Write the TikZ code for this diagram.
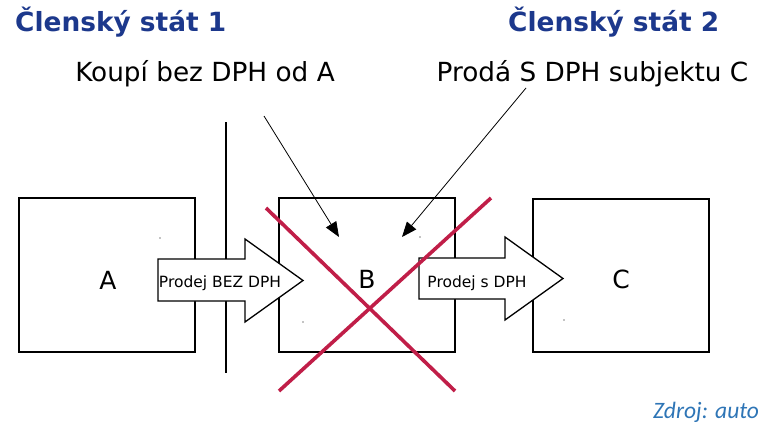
\documentclass[tikz,border=0pt]{standalone}
\usepackage{fontspec}
\setmainfont{DejaVu Sans}
\newfontfamily\srcfont{Carlito}
\usetikzlibrary{arrows.meta}
\definecolor{titleblue}{RGB}{28,56,140}
\definecolor{crossred}{RGB}{192,30,72}
\definecolor{srcblue}{RGB}{46,117,182}
\begin{document}
\begin{tikzpicture}[x=1pt,y=-1pt,
  party/.style={draw,line width=1.3pt,inner sep=0pt,font=\fontsize{25}{30}\selectfont},
  fatarrow/.style={draw,line width=1.3pt,fill=white,line join=miter},
  arrowtext/.style={inner sep=0pt,font=\fontsize{15.5}{18}\selectfont},
  title/.style={font=\bfseries\fontsize{26.4}{30}\selectfont,text=titleblue,inner sep=0pt},
  note/.style={font=\fontsize{26.3}{30}\selectfont,inner sep=0pt},
  pointer/.style={-{Triangle[length=15pt,width=12pt]},line width=0.8pt},
  cross/.style={draw=crossred,line width=3.6pt}]
\useasboundingbox (0,0) rectangle (758,426);
% border line
\coordinate (vtop) at (226,122);
\coordinate (vbot) at (226,373);
\draw[line width=1.3pt] (vtop) -- (vbot);
% boxes
\node[party,minimum width=176pt,minimum height=154pt] (A) at (107,275) {};
\node[party,minimum width=176pt,minimum height=154pt] (B) at (367,275) {};
\node[party,minimum width=176pt,minimum height=153pt] (C) at (621,275.5) {};
\node[font=\fontsize{25}{30}\selectfont,inner sep=0pt] (Alab) at (108,280) {A};
\node[font=\fontsize{25}{30}\selectfont,inner sep=0pt] (Blab) at (367,279) {B};
\node[font=\fontsize{25}{30}\selectfont,inner sep=0pt] (Clab) at (621,279) {C};
% fat arrows
\draw[fatarrow] (158,259) -- (245,259) -- (245,239) -- (303,280.5) -- (245,322) -- (245,301) -- (158,301) -- cycle;
\node[arrowtext] (t1) at (220,283) {Prodej BEZ DPH};
\draw[fatarrow] (419,258) -- (505,258) -- (505,237) -- (563,278.5) -- (505,320) -- (505,299) -- (419,299) -- cycle;
\node[arrowtext] (t2) at (477,283) {Prodej s DPH};
% tiny specks
\fill (160,238) circle (0.6pt);
\fill (303,322) circle (0.6pt);
\fill (420,237) circle (0.6pt);
\fill (564,320) circle (0.6pt);
% titles and notes
\node[title,anchor=base west] (s1) at (15,31) {Členský stát 1};
\node[title,anchor=base west] (s2) at (508,31) {Členský stát 2};
\node[note,anchor=base] (n1) at (205,81) {Koupí bez DPH od A};
\node[note,anchor=base] (n2) at (592.5,81) {Prodá S DPH subjektu C};
\coordinate (p1s) at (264,116);
\coordinate (p1e) at (339,237);
\coordinate (p2s) at (526,88);
\coordinate (p2e) at (402,237);
\draw[pointer] (p1s) -- (p1e);
\draw[pointer] (p2s) -- (p2e);
% cross
\coordinate (x1a) at (266,208);
\coordinate (x1b) at (455,391);
\coordinate (x2a) at (491,198);
\coordinate (x2b) at (279,391);
\draw[cross] (x1a) -- (x1b);
\draw[cross] (x2a) -- (x2b);
% source
\node[font=\srcfont\itshape\fontsize{23.5}{27}\selectfont,text=srcblue,anchor=base west,inner sep=0pt] (src) at (653,418) {Zdroj: auto};
\end{tikzpicture}
\end{document}
